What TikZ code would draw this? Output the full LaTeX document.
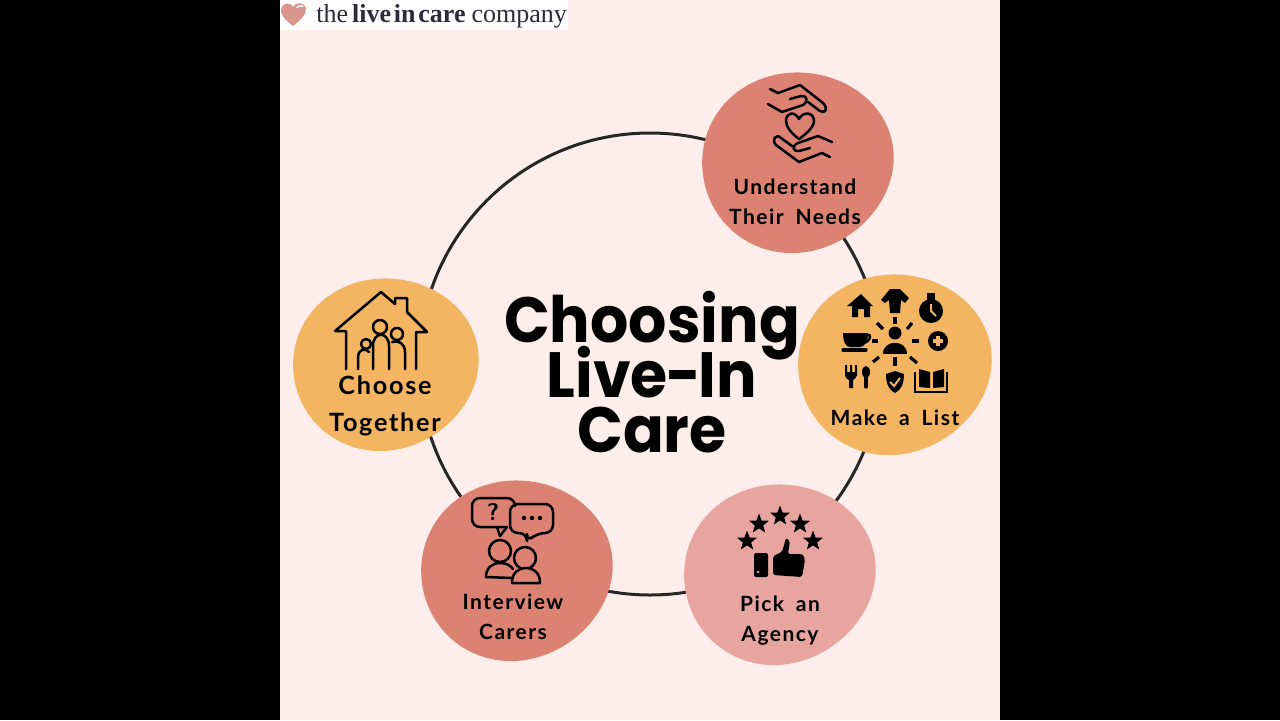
\documentclass[tikz,border=0pt]{standalone}
\usepackage{fontspec}
\usepackage{tikz}
\usetikzlibrary{shapes.geometric}
\setmainfont{Liberation Serif}
\newfontfamily\titlefont[FakeStretch=0.94]{Poppins}
\newfontfamily\labelfont[LetterSpace=7,WordSpace=1.8]{Lato}
\definecolor{pagepink}{HTML}{FEEEEB}
\definecolor{terracotta}{HTML}{DC8272}
\definecolor{amber}{HTML}{F3B562}
\definecolor{rosepink}{HTML}{E8A5A0}
\definecolor{logoheart}{HTML}{D9968C}
\definecolor{logoink}{HTML}{2B2B3A}
\newcommand{\stepblob}[5]{%
  \fill[#1] plot[smooth cycle, domain=0:350, samples=36]
    ({#2+#4*cos(\x)*(1+0.016*cos(2*\x+100)+0.012*cos(3*\x+40))},
     {#3+#5*sin(\x)*(1+0.016*cos(2*\x+100)+0.012*cos(3*\x+40))});}

\begin{document}
\begin{tikzpicture}[
  x=0.5pt, y=-0.5pt,
  ring/.style={draw=black!85, line width=1.5pt, circle, minimum size=231pt, inner sep=0pt},
  steplabel/.style={font=\labelfont\bfseries\fontsize{10.5}{15}\selectfont, align=center, inner sep=0pt},
  bigtitle/.style={font=\titlefont\bfseries\fontsize{32}{27.5}\selectfont\lineskiplimit-100pt\relax, align=center, inner sep=0pt},
  ico/.style={draw=black, line width=1.25pt, line join=round, line cap=round},
  ray/.style={draw=black, line width=1.6pt},
  starmark/.style={star, star points=5, star point ratio=2.4, fill=black, minimum size=10.5pt, inner sep=0pt}
]
\useasboundingbox (0,0) rectangle (1280,720);
\fill[black] (0,0) rectangle (1280,720);
\fill[pagepink] (280,0) rectangle (1000,720);

% Logo strip
\fill[white] (280,0) rectangle (568,30);
\fill[logoheart] (293,26) .. controls (284,19) and (280,14) .. (281,9) .. controls (282,3) and (290,1) .. (293,7) .. controls (296,1) and (305,2) .. (306,9) .. controls (306,14) and (301,20) .. (293,26) -- cycle;
\fill[white] (296,8) .. controls (298,4) and (302,4) .. (304,7) .. controls (301,6) and (299,7) .. (296,8) -- cycle;
\node[font=\fontsize{13}{14}\selectfont, text=logoink, anchor=west, inner sep=0pt] (logotext) at (316,16)
  {the\kern2pt\textbf{live\kern1.4pt in\kern1.4pt care}\kern3pt company};

% Ring behind the steps
\node[ring] (cycle) at (650,364) {};

% Step blobs
\stepblob{terracotta}{797}{162}{96}{90}
\stepblob{amber}{894}{364}{97}{90}
\stepblob{rosepink}{779}{574}{96}{90}
\stepblob{terracotta}{516}{570}{96}{90}
\stepblob{amber}{385}{364}{93}{86}

% Title and step labels
\node[bigtitle] (title) at (652,372) {Choosing\\Live\kern-1pt-\kern-1pt In\\Care};
\node[steplabel] (needs) at (795,202) {Understand\\Their Needs};
\node[steplabel] (list) at (895,418) {Make a List};
\node[steplabel] (agency) at (780,621) {Pick an\\Agency};
\node[steplabel] (carers) at (513,617) {Interview\\Carers};
\node[steplabel, font=\labelfont\bfseries\fontsize{12.6}{18.5}\selectfont] (together) at (385,406) {Choose\\Together};

% Hands and heart
\draw[ico] (770,89) -- (778,93) -- (800,85) -- (823,103) .. controls (829,109) and (825,114) .. (820,111) -- (808,102);
\draw[ico] (768,104) -- (782,112) -- (803,105) .. controls (809,101) and (807,95) .. (801,96) -- (790,99);
\draw[ico] (799,119) .. controls (795,111) and (786,112) .. (786,121) .. controls (786,127) and (792,134) .. (799,139) .. controls (806,134) and (814,127) .. (814,121) .. controls (814,112) and (803,111) .. (799,119) -- cycle;
\draw[ico] (832,142) -- (818,136) -- (798,143) .. controls (791,146) and (793,152) .. (799,151) -- (810,148);
\draw[ico] (830,157) -- (822,153) -- (799,162) -- (776,145) .. controls (771,140) and (776,133) .. (781,138) -- (792,146);

% Make-a-list icons
\fill[black] (847,306) -- (861,294) -- (873,306) -- (870,306) -- (870,317) -- (864,317) -- (864,309) -- (858,309) -- (858,317) -- (852,317) -- (852,306) -- cycle;
\fill[black] (881,300) -- (890,289) -- (900,289) -- (909,298) -- (905,303) -- (901,300) -- (900,313) -- (890,313) -- (889,300) -- (885,303) -- cycle;
\fill[black] (931,311) circle[radius=12];
\fill[black] (927,293) rectangle (935,300);
\draw[amber, line width=1pt] (931,304) -- (931,311) -- (936,316);
\fill[black] (843,333) -- (868,333) .. controls (868,342) and (864,347) .. (860,347) -- (850,347) .. controls (846,347) and (843,342) .. (843,333) -- cycle;
\draw[ico] (867,335) .. controls (872,333) and (871,341) .. (864,343);
\draw[ico, line width=1.6pt] (843,350) -- (866,350);
\fill[black] (895,333) circle[radius=6.5];
\fill[black] (883,354) .. controls (883,339) and (907,339) .. (907,354) -- cycle;
\foreach \xa/\ya/\xb/\yb in {895/317/895/324, 912/323/907/329, 912/341/919/341, 910/357/917/363, 895/357/895/366, 879/357/873/362, 872/341/878/341, 877/323/883/329}
  \draw[ray] (\xa,\ya) -- (\xb,\yb);
\fill[black] (938,341) circle[radius=10];
\draw[amber, line width=1.6pt] (933,341) -- (943,341) (938,336) -- (938,346);
\fill[black] (845,365) -- (847,365) -- (847,372) -- (850,372) -- (850,365) -- (852,365) -- (852,372) -- (855,372) -- (855,365) -- (857,365) -- (857,375) .. controls (857,378) and (854,379) .. (853,380) -- (853,388) -- (849,388) -- (849,380) .. controls (847,379) and (845,378) .. (845,375) -- cycle;
\fill[black] (866,372) ellipse[x radius=4, y radius=6];
\draw[ico, line width=1.6pt] (866,375) -- (866,387);
\fill[black] (895,371) -- (904,374) .. controls (904,384) and (901,390) .. (895,393) .. controls (889,390) and (886,384) .. (886,374) -- cycle;
\draw[amber, line width=1pt] (890,382) -- (894,386) -- (900,378);
\fill[black] (919,369) -- (930,372) -- (930,388) -- (919,387) -- cycle;
\fill[black] (933,372) -- (944,369) -- (944,387) -- (933,388) -- cycle;
\draw[black, line width=0.6pt] (915,372) -- (915,392) -- (947,392) -- (947,372);

% Thumb and stars
\foreach \i/\xs/\ys in {1/747/541, 2/759/524, 3/780/516, 4/800/524, 5/813/541}
  \node[starmark] (star\i) at (\xs,\ys) {};
\fill[black, rounded corners=1pt] (754,553) rectangle (768,577);
\fill[rosepink] (758,572) circle[radius=1.4];
\fill[black, rounded corners=1pt] (773,556) -- (782,552) -- (786,538) -- (790,541) -- (788,554) -- (803,554) -- (805,560) -- (802,577) -- (773,575) -- cycle;

% Speech bubbles and carers
\draw[ico, rounded corners=4pt] (507,527) -- (472,527) -- (472,498) -- (515,498) -- (515,503);
\draw[ico] (500,536) -- (497,527);
\draw[ico] (500,536) -- (507,527);
\draw[ico, rounded corners=4pt] (510,533) -- (510,504) -- (553,504) -- (553,533) -- (537,533) -- (527,542) -- (527,533) -- cycle;
\node[font=\sffamily\bfseries\fontsize{12}{12}\selectfont, inner sep=0pt] (question) at (493,512) {?};
\foreach \xd in {524,532,540}
  \fill[black] (\xd,518) circle[radius=2.2];
\draw[ico] (500,551) circle[radius=11];
\draw[ico] (486,577) .. controls (486,568) and (492,563) .. (500,563) .. controls (506,563) and (510,565) .. (513,569);
\draw[ico] (486,577) -- (512,578);
\draw[ico, fill=terracotta] (525,558) circle[radius=11];
\draw[ico, fill=terracotta] (512,583) .. controls (512,573) and (518,568) .. (526,568) .. controls (534,568) and (540,573) .. (540,583) -- cycle;

% Family in the house
\draw[ico] (346,369) -- (346,331) -- (335,331) -- (381,292) -- (395,304) -- (395,298) -- (407,298) -- (407,312) -- (427,332) -- (416,332) -- (416,369);
\draw[ico] (380,327) circle[radius=7];
\draw[ico] (366,344) circle[radius=5];
\draw[ico] (397,334) circle[radius=6];
\draw[ico] (373,369) -- (373,346) .. controls (373,331) and (389,331) .. (389,346) -- (389,369);
\draw[ico] (358,369) -- (358,358) .. controls (358,348) and (366,348) .. (369,352);
\draw[ico] (392,342) .. controls (398,340) and (405,343) .. (405,352) -- (405,369);

\end{tikzpicture}
\end{document}
